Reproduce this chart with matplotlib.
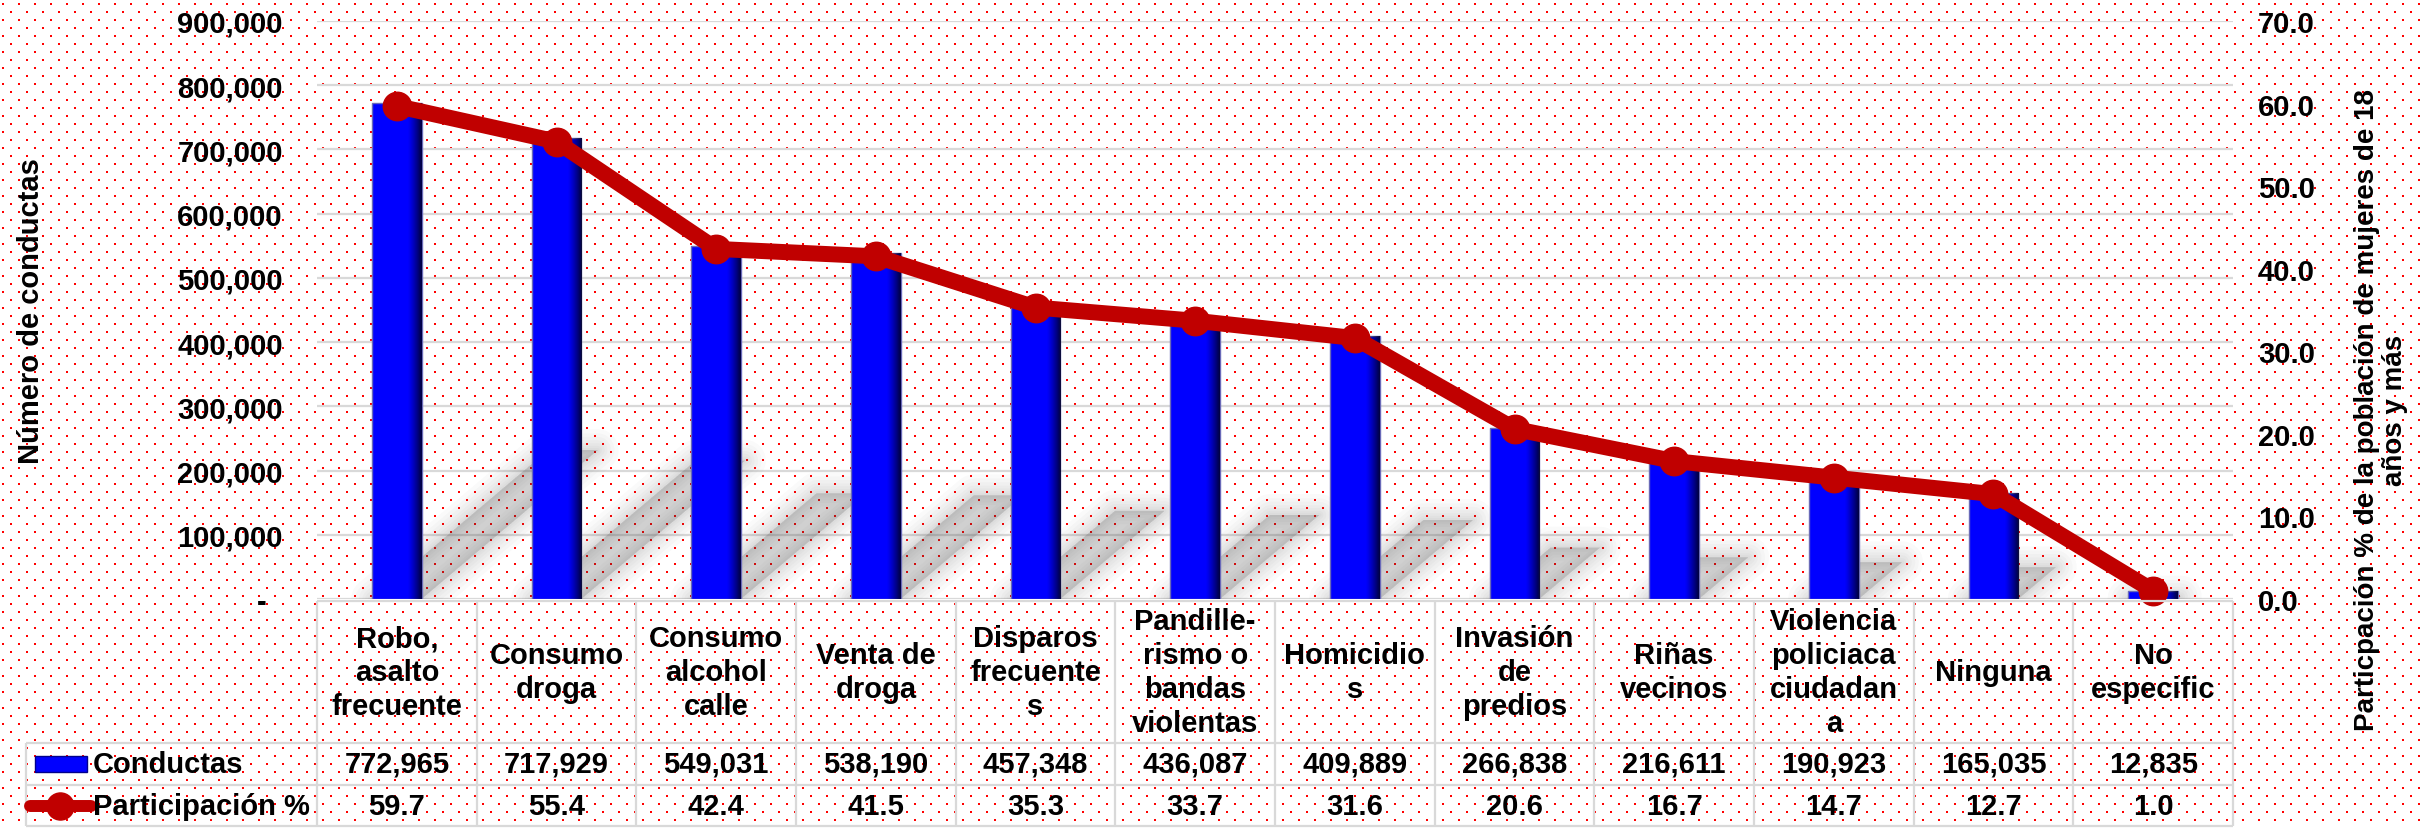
import numpy as np
import matplotlib
matplotlib.use('Agg')
import matplotlib.pyplot as plt
from matplotlib.patches import Polygon, Rectangle
from matplotlib.ticker import FuncFormatter

# ---------------- data ----------------
categorias = ["Robo,\nasalto\nfrecuente", "Consumo\ndroga", "Consumo\nalcohol\ncalle",
              "Venta de\ndroga", "Disparos\nfrecuente\ns", "Pandille-\nrismo o\nbandas\nviolentas",
              "Homicidio\ns", "Invasión\nde\npredios", "Riñas\nvecinos",
              "Violencia\npoliciaca\nciudadan\na", "Ninguna", "No\nespecific"]
conductas = [772965, 717929, 549031, 538190, 457348, 436087, 409889, 266838,
             216611, 190923, 165035, 12835]
participacion = [59.7, 55.4, 42.4, 41.5, 35.3, 33.7, 31.6, 20.6, 16.7, 14.7, 12.7, 1.0]
serie_barras = "Conductas"
serie_linea = "Participación %"
ylabel_izq = "Número de conductas"
ylabel_der = "Particpación % de la población de mujeres de 18\naños y más"
yticks_izq = np.arange(0, 900001, 100000)
yticks_der = np.arange(0, 71, 10)

# ---------------- style ----------------
W, H, DPI = 2425, 829, 100
plt.rcParams['font.family'] = ['Liberation Sans', 'DejaVu Sans']
plt.rcParams['font.weight'] = 'bold'
FS = 21
BLUE = '#0000FF'
RED = '#C00000'
GRID = '#D9D9D9'

fig = plt.figure(figsize=(W / DPI, H / DPI), dpi=DPI)
fig.patch.set_facecolor('white')

# dotted red background pattern
bg = np.ones((H, W, 3))
for r, yy in enumerate(range(4, H - 2, 8)):
    x0 = 2 + (8 if r % 2 else 0)
    for ddy in range(2):
        for ddx in range(2):
            bg[yy + ddy, x0 + ddx::16] = (1, 0, 0)
fig.figimage(bg, xo=0, yo=0, origin='upper', zorder=-10)

# ---------------- main axes ----------------
L, R = 317 / W, 2233 / W
B, T = 1 - 600 / H, 1 - 22 / H
ax = fig.add_axes([L, B, R - L, T - B])
ax.set_facecolor('none')
n = len(conductas)
x = np.arange(n)
px_per_unit = (2233 - 317) / n
bw = 0.31

# soft shadows of the bars on the floor
for xc, v in zip(x, conductas):
    h_px = v / yticks_izq[-1] * 578
    dxu = 0.355 * h_px / px_per_unit
    dyv = 0.30 * v
    xl, xr = xc - bw / 2, xc + bw / 2
    pts = [(xl, 0), (xr, 0), (xr + dxu, dyv), (xl + dxu, dyv)]
    for lw in [30, 24, 19, 14, 10, 6, 3, 0]:
        a = 0.028
        ax.add_patch(Polygon(pts, closed=True, facecolor=(0.3, 0.3, 0.3, a),
                             edgecolor=(0.3, 0.3, 0.3, a if lw else 0), lw=lw,
                             joinstyle='round', zorder=1))

bars = ax.bar(x, conductas, width=bw, color=BLUE, edgecolor='#6A6AB8', lw=1, zorder=2)

# bevel-like shading on each bar
t = np.linspace(0, 1, 64)
grad = np.zeros((2, 64, 4))
grad[..., 2] = 0.18
grad[..., 3] = (np.clip((t - 0.72) / 0.28, 0, 1) ** 1.2 * 0.9)[None, :]
for b in bars:
    bx, bwid, bh = b.get_x(), b.get_width(), b.get_height()
    im = ax.imshow(grad, extent=[bx, bx + bwid, 0, bh], aspect='auto',
                   zorder=2.5, interpolation='bilinear')
    im.set_clip_path(b)

ax.set_xlim(-0.5, n - 0.5)
ax.set_ylim(0, yticks_izq[-1])
ax.set_yticks(yticks_izq)
ax.yaxis.set_major_formatter(FuncFormatter(lambda v, p: f"{v:,.0f}" if v > 0 else "-"))
ax.grid(axis='y', color=GRID, lw=1.6)
ax.set_axisbelow(True)
for s in ax.spines.values():
    s.set_visible(False)
ax.tick_params(axis='y', length=0, pad=24.5, labelsize=FS)
ax.tick_params(axis='x', length=0, labelbottom=False)
ax.yaxis.get_major_ticks()[0].set_pad(24.5 + 16 * 0.72)

# ---------------- secondary axis (line) ----------------
ax2 = ax.twinx()
ax2.set_facecolor('none')
ax2.set_ylim(0, yticks_der[-1])
ax2.set_yticks(yticks_der)
ax2.yaxis.set_major_formatter(FuncFormatter(lambda v, p: f"{v:.1f}"))
ax2.tick_params(axis='y', length=0, pad=18, labelsize=FS)
for s in ax2.spines.values():
    s.set_visible(False)
ax2.plot(x, participacion, color=RED, lw=11.5, marker='o', ms=20.5,
         solid_joinstyle='round', solid_capstyle='round', zorder=3, clip_on=False)
ax2.set_xlim(-0.5, n - 0.5)

# ---------------- data table ----------------
tax = fig.add_axes([L, 1 - 828 / H, R - L, (828 - 602) / H])
tax.set_facecolor('none')
tax.set_xlim(-0.5, n - 0.5)
tax.set_ylim(828, 602)
tax.axis('off')


def px2x(p):
    return -0.5 + (p - 317) / px_per_unit


xleft = px2x(26)
glw = 1.6
tax.hlines(602, -0.5, n - 0.5, color=GRID, lw=glw, clip_on=False)
tax.hlines([744, 786, 827], xleft, n - 0.5, color=GRID, lw=glw, clip_on=False)
tax.vlines(np.arange(n + 1) - 0.5, 602, 827, color=GRID, lw=glw, clip_on=False)
tax.vlines(xleft, 744, 827, color=GRID, lw=glw, clip_on=False)

for i in range(n):
    tax.text(i, 673, categorias[i], ha='center', va='center', multialignment='center',
             fontsize=FS, linespacing=1.27)
    tax.text(i, 765, f"{conductas[i]:,}", ha='center', va='center', fontsize=FS)
    tax.text(i, 807, f"{participacion[i]:.1f}", ha='center', va='center', fontsize=FS)

# legend keys in the table
tax.add_patch(Rectangle((px2x(35), 757), px2x(87) - px2x(35), 16, facecolor=BLUE,
                        edgecolor='#00008B', lw=1, clip_on=False))
tax.plot([px2x(30), px2x(91)], [807, 807], color=RED, lw=8.6,
         solid_capstyle='round', clip_on=False)
tax.plot([px2x(60)], [807], 'o', ms=19.5, color=RED, clip_on=False)
tax.text(px2x(93), 765, serie_barras, ha='left', va='center', fontsize=FS)
tax.text(px2x(93), 807, serie_linea, ha='left', va='center', fontsize=FS)

# axis titles
fig.text(31 / W, 1 - 311 / H, ylabel_izq, rotation=90, ha='center', va='center', fontsize=FS)
fig.text(2381 / W, 1 - 410 / H, ylabel_der, rotation=90, ha='center', va='center',
         multialignment='center', fontsize=20, linespacing=1.1)

fig.savefig('out.png', dpi=DPI)
